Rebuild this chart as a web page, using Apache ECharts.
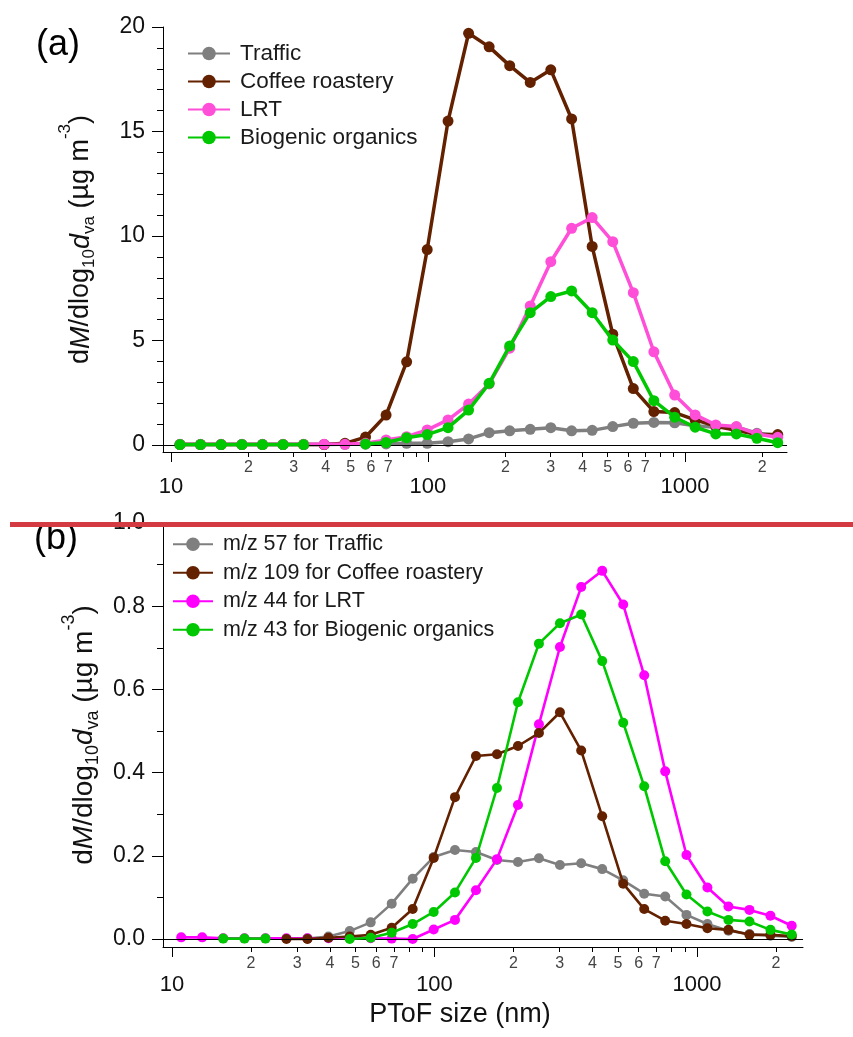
<!DOCTYPE html>
<html>
<head>
<meta charset="utf-8">
<script src="https://cdn.jsdelivr.net/npm/echarts@6/dist/echarts.min.js"></script>
<style>html,body{margin:0;padding:0;background:#fff;}#c{width:853px;height:1037px;}</style>
</head>
<body>
<div id="c"></div>
<script>
// PToF size bins (nm)
const sizes = [10.84, 13.03, 15.67, 18.88, 22.70, 27.29, 32.81, 39.45, 47.53, 57.15, 68.71, 82.60, 99.31, 119.7, 143.9, 173.0, 208.0, 250.0, 300.6, 362.2, 435.5, 523.6, 629.5, 756.8, 912.0, 1096, 1318, 1585, 1905, 2296];

// Panel (a) factor size distributions
const namesA = ['Traffic', 'Coffee roastery', 'LRT', 'Biogenic organics'];
const trafficA = [0.02,0.02,0.02,0.02,0.02,0.02,0.02,0.02,0.03,0.04,0.05,0.08,0.08,0.16,0.29,0.59,0.68,0.75,0.83,0.68,0.70,0.88,1.04,1.08,1.06,0.92,0.85,0.86,0.56,0.45];
const coffeeA = [0.02,0.02,0.02,0.02,0.02,0.02,0.02,0.02,0.08,0.38,1.43,3.98,9.35,15.5,19.7,19.05,18.15,17.35,17.95,15.6,9.5,5.3,2.7,1.6,1.55,1.2,0.9,0.7,0.5,0.5];
const lrtA = [0.03,0.03,0.03,0.03,0.03,0.03,0.03,0.03,0.03,0.08,0.24,0.40,0.72,1.20,1.96,2.92,4.63,6.65,8.77,10.37,10.88,9.73,7.29,4.46,2.39,1.44,0.96,0.88,0.53,0.37];
const bioA = [0.02,0.02,0.02,0.02,0.02,0.02,0.02,null,null,0.05,0.12,0.35,0.50,0.83,1.67,2.95,4.74,6.33,7.10,7.37,6.33,5.02,3.99,2.12,1.33,0.85,0.53,0.53,0.32,0.11];

// Panel (b) marker ion size distributions
const namesB = ['m/z 57 for Traffic', 'm/z 109 for Coffee roastery', 'm/z 44 for LRT', 'm/z 43 for Biogenic organics'];
const trafficB = [null,null,null,null,null,null,0.001,0.006,0.019,0.040,0.085,0.145,0.197,0.214,0.209,0.190,0.185,0.194,0.178,0.182,0.168,0.141,0.109,0.102,0.058,0.036,0.020,0.012,0.008,0.005];
const coffeeB = [null,null,null,null,null,0.0,0.0,0.003,0.006,0.010,0.027,0.072,0.195,0.341,0.440,0.444,0.464,0.495,0.545,0.453,0.295,0.133,0.072,0.044,0.036,0.026,0.022,0.010,0.010,0.007];
const lrtB = [0.004,0.004,0.002,0.002,0.002,0.002,0.002,0.002,0.002,0.002,0.001,0.0,0.023,0.046,0.117,0.192,0.322,0.516,0.702,0.846,0.885,0.804,0.634,0.403,0.202,0.124,0.078,0.070,0.056,0.032];
const bioB = [null,null,0.001,0.001,0.001,null,null,null,0.0,0.003,0.015,0.036,0.065,0.112,0.195,0.363,0.569,0.710,0.759,0.780,0.668,0.520,0.367,0.187,0.107,0.066,0.046,0.042,0.022,0.011];

// Tick values
const xMajorTicks = [10, 100, 1000];
const xMinorTicks = [20,30,40,50,60,70,80,90,200,300,400,500,600,700,800,900,2000];
const xMinorLabels = [20,30,40,50,60,70,200,300,400,500,600,700,2000];
const yMajorA = [0, 5, 10, 15, 20];
const yMinorA = [1,2,3,4,6,7,8,9,11,12,13,14,16,17,18,19];
const yMajorB = [0, 0.2, 0.4, 0.6, 0.8, 1.0];
const yMinorB = [0.1, 0.3, 0.5, 0.7, 0.9];

const FONT = 'Liberation Sans';
const colorsA = ['#7f7f7f', '#632100', '#ff4fd8', '#00c800'];
const colorsB = ['#7f7f7f', '#632100', '#ff00ff', '#00c800'];

const pair = arr => sizes.map((s, i) => [s, arr[i] === null ? '-' : arr[i]]);
const lead = v => { const e = Math.floor(Math.log10(v) + 1e-9); return String(Math.round(v / Math.pow(10, e))); };

function xAxes(grid, min, max, majMargin, minMargin) {
  return [
    { gridIndex: grid, type: 'log', logBase: 10, min: min, max: max, position: 'bottom',
      axisLine: { show: true, onZero: false, lineStyle: { color: '#000', width: 1 } },
      axisTick: { show: true, length: 10, customValues: xMajorTicks, lineStyle: { color: '#000', width: 1 } },
      axisLabel: { show: true, customValues: xMajorTicks, margin: majMargin, fontSize: 22, fontFamily: FONT, color: '#111',
        formatter: v => String(Math.round(v)) },
      splitLine: { show: false }, minorTick: { show: false } },
    { gridIndex: grid, type: 'log', logBase: 10, min: min, max: max, position: 'bottom',
      axisLine: { show: false, onZero: false },
      axisTick: { show: true, length: 5, customValues: xMinorTicks, lineStyle: { color: '#000', width: 1 } },
      axisLabel: { show: true, customValues: xMinorLabels, margin: minMargin, fontSize: 16, fontFamily: FONT, color: '#444',
        formatter: v => lead(v) },
      splitLine: { show: false } }
  ];
}

function yAxes(grid, min, max, major, minor, fmt, name, nameSize, nameGap) {
  const sub = Math.round(nameSize * 0.64);
  const lh = Math.round(nameSize * 1.76);
  return [
    { gridIndex: grid, type: 'value', min: min, max: max, position: 'left',
      axisLine: { show: true, onZero: false, lineStyle: { color: '#000', width: 1 } },
      axisTick: { show: true, length: 11, customValues: major, lineStyle: { color: '#000', width: 1 } },
      axisLabel: { show: true, customValues: major, margin: 18, fontSize: 23, fontFamily: FONT, color: '#111', formatter: fmt },
      splitLine: { show: false },
      name: name, nameLocation: 'middle', nameGap: nameGap,
      nameTextStyle: {
        fontFamily: FONT, color: '#111',
        rich: {
          a: { fontSize: nameSize, fontFamily: FONT, color: '#111', lineHeight: lh },
          i: { fontSize: nameSize, fontFamily: FONT, color: '#111', fontStyle: 'italic', lineHeight: lh },
          s: { fontSize: sub, fontFamily: FONT, color: '#111', verticalAlign: 'middle', padding: [Math.round(nameSize * 0.6), 0, 0, 0] },
          p: { fontSize: sub, fontFamily: FONT, color: '#111', verticalAlign: 'top' }
        }
      } },
    { gridIndex: grid, type: 'value', min: min, max: max, position: 'left',
      axisLine: { show: false, onZero: false },
      axisTick: { show: true, length: 6, customValues: minor, lineStyle: { color: '#000', width: 1 } },
      axisLabel: { show: false },
      splitLine: { show: false } }
  ];
}

const yName = '{a|d}{i|M}{a|/dlog}{s|10}{i|d}{s|va}{a| (µg m}{p|-3}{a|)}';

function makeSeries(names, datas, colors, xi, yi, lw, ss, order) {
  return order.map((k, j) => {
    const s = {
      name: names[k], type: 'line', xAxisIndex: xi, yAxisIndex: yi,
      data: pair(datas[k]), symbol: 'circle', symbolSize: ss, showSymbol: true,
      lineStyle: { color: colors[k], width: lw }, itemStyle: { color: colors[k] },
      connectNulls: false, silent: true, z: 2 + j
    };
    if (j === 0) {
      s.markLine = { silent: true, symbol: ['none', 'none'], label: { show: false },
        lineStyle: { color: '#000', width: 1, type: 'solid' }, data: [{ yAxis: 0 }], animation: false };
    }
    return s;
  });
}

const seriesA = makeSeries(namesA, [trafficA, coffeeA, lrtA, bioA], colorsA, 0, 0, 3.5, 11, [0, 1, 2, 3]);
const seriesB = makeSeries(namesB, [trafficB, coffeeB, lrtB, bioB], colorsB, 2, 2, 2.6, 10, [0, 2, 1, 3]);

const option = {
  animation: false,
  backgroundColor: '#fff',
  textStyle: { fontFamily: FONT },
  grid: [
    { left: 163, top: 27, width: 624, height: 425, containLabel: false },
    { left: 163, top: 523, width: 640, height: 424, containLabel: false }
  ],
  xAxis: [].concat(xAxes(0, 9.31, 2495, 24, 8), xAxes(1, 9.24, 2535, 27, 9)),
  yAxis: [].concat(
    yAxes(0, -0.335, 20, yMajorA, yMinorA, v => String(Math.round(v)), yName, 27, 58),
    yAxes(1, -0.0192, 1.0, yMajorB, yMinorB, v => v.toFixed(1), yName, 28, 52)
  ),
  legend: [
    { data: namesA, orient: 'vertical', left: 187, top: 42, padding: 0, itemWidth: 42, itemHeight: 17, itemGap: 5,
      selectedMode: false, textStyle: { fontSize: 22.5, lineHeight: 23, fontFamily: FONT, color: '#1a1a1a', padding: [0, 0, 0, 5] } },
    { data: namesB, orient: 'vertical', left: 172, top: 533, padding: 0, itemWidth: 40, itemHeight: 17, itemGap: 6,
      selectedMode: false, textStyle: { fontSize: 21.5, lineHeight: 22.5, fontFamily: FONT, color: '#1a1a1a', padding: [0, 0, 0, 5] } }
  ],
  graphic: [
    { type: 'text', left: 36, top: 27, style: { text: '(a)', fontSize: 36, fontFamily: FONT, fill: '#000' } },
    { type: 'text', left: 34, top: 521, style: { text: '(b)', fontSize: 36, fontFamily: FONT, fill: '#000' } },
    { type: 'text', x: 460, y: 1015, style: { text: 'PToF size (nm)', fontSize: 27, fontFamily: FONT, fill: '#111', align: 'center', verticalAlign: 'middle' } },
    { type: 'rect', z: 100, shape: { x: 10, y: 522, width: 843, height: 5 }, style: { fill: '#d33a41' } }
  ],
  series: [].concat(seriesA, seriesB)
};

const chart = echarts.init(document.getElementById('c'), null, { renderer: 'canvas' });
chart.setOption(option);
</script>
</body>
</html>
